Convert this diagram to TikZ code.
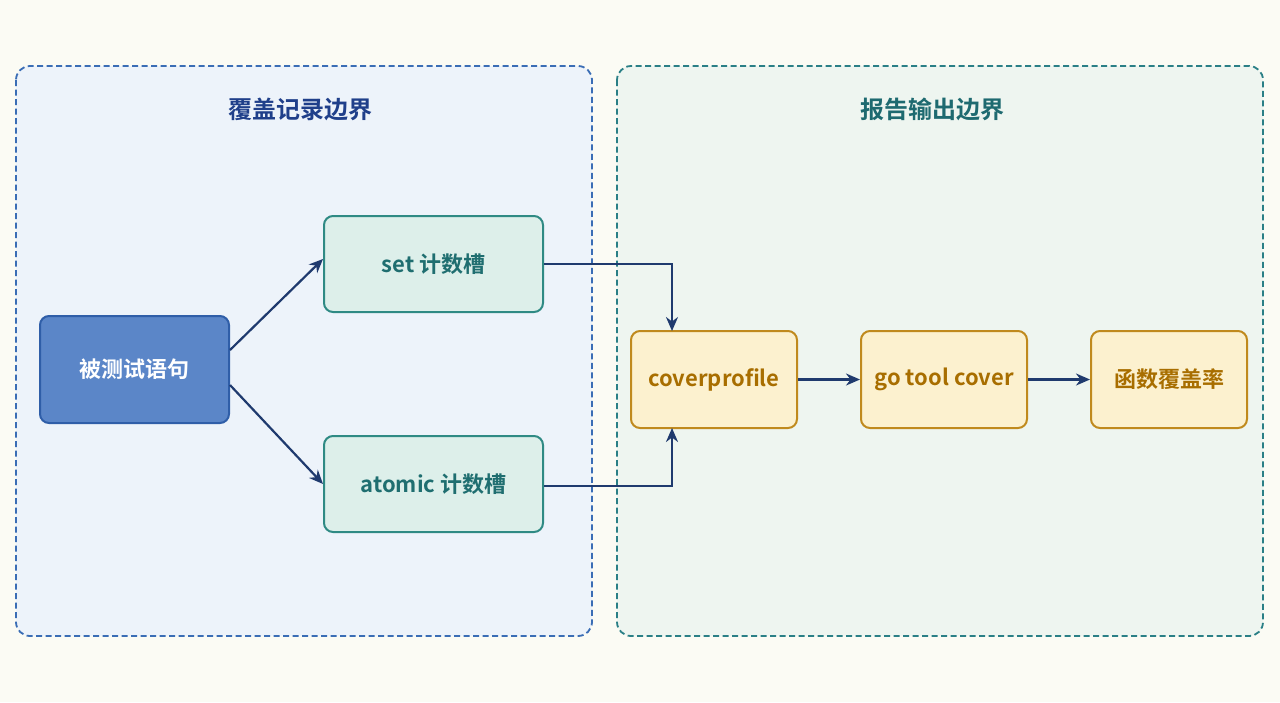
\documentclass[tikz,border=0pt]{standalone}
\usepackage{fontspec}
\setmainfont{Noto Sans CJK SC}[BoldFont={Noto Sans CJK SC Bold}]
\usetikzlibrary{arrows.meta}
\definecolor{bg}{HTML}{FBFBF4}
\definecolor{lpfill}{HTML}{EDF3FA}
\definecolor{lpdraw}{HTML}{3A6DB5}
\definecolor{rpfill}{HTML}{EEF5F0}
\definecolor{rpdraw}{HTML}{2A7F86}
\definecolor{ltitle}{HTML}{1F3F8A}
\definecolor{rtitle}{HTML}{1E6A70}
\definecolor{srcfill}{HTML}{5B86C8}
\definecolor{srcdraw}{HTML}{2F5EA8}
\definecolor{tfill}{HTML}{DDEFEA}
\definecolor{tdraw}{HTML}{2F8A84}
\definecolor{ttext}{HTML}{1F6E70}
\definecolor{ofill}{HTML}{FCF1CF}
\definecolor{odraw}{HTML}{C08A1E}
\definecolor{otext}{HTML}{A86E00}
\definecolor{arr}{HTML}{1F3A6E}
\begin{document}
\begin{tikzpicture}[x=1pt,y=-1pt,
  panel/.style={rounded corners=14pt,line width=1.8pt,dash pattern=on 6pt off 3.5pt},
  box/.style={rounded corners=9pt,line width=2pt,font=\bfseries\fontsize{22}{26}\selectfont,inner sep=0pt},
  src/.style={box,fill=srcfill,draw=srcdraw,text=white},
  teal/.style={box,fill=tfill,draw=tdraw,text=ttext},
  org/.style={box,fill=ofill,draw=odraw,text=otext},
  ar/.style={draw=arr,line width=2.2pt,-{Stealth[length=14pt,width=12pt]}}]
\fill[bg] (0,0) rectangle (1280,702);
\useasboundingbox (0,0) rectangle (1280,702);
\draw[panel,fill=lpfill,draw=lpdraw] (16,66) rectangle (592,636);
\draw[panel,fill=rpfill,draw=rpdraw] (617,66) rectangle (1263,636);
\node[font=\bfseries\fontsize{24}{28}\selectfont,text=ltitle] (lt) at (300,109) {覆盖记录边界};
\node[font=\bfseries\fontsize{24}{28}\selectfont,text=rtitle] (rt) at (932,109) {报告输出边界};
\node[src,minimum width=189pt,minimum height=107pt] (s) at (134.5,369.5) {被测试语句};
\node[teal,minimum width=219pt,minimum height=96pt] (set) at (433.5,264) {set 计数槽};
\node[teal,minimum width=219pt,minimum height=96pt] (at) at (433.5,484) {atomic 计数槽};
\node[org,minimum width=166pt,minimum height=97pt] (cp) at (714,379.5) {coverprofile};
\node[org,minimum width=166pt,minimum height=97pt] (gt) at (944,379.5) {go tool cover};
\node[org,minimum width=156pt,minimum height=97pt] (fr) at (1169,379.5) {函数覆盖率};
\draw[ar] (s.east|-0,350) -- (set.west|-0,259);
\draw[ar] (s.east|-0,385) -- (at.west|-0,484);
\draw[ar] (set.east) -- (672,264) -- (672,331);
\draw[ar] (at.east|-0,486) -- (672,486) -- (672,428);
\draw[ar] (cp) -- (gt);
\draw[ar] (gt) -- (fr);
\end{tikzpicture}
\end{document}
